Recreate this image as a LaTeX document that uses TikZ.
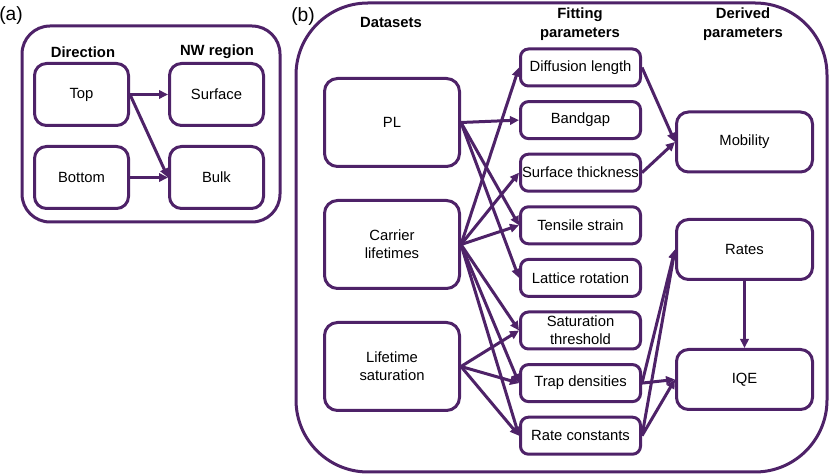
\documentclass[tikz,border=0pt]{standalone}
\usepackage{fontspec}
\setmainfont{Liberation Sans}
\usepackage{tikz}
\usetikzlibrary{positioning,arrows.meta}

\definecolor{plum}{RGB}{78,34,104}
\tikzset{
  box/.style={draw=plum, line width=1.5pt, rounded corners=5pt, inner sep=0pt,
    align=center, font=\fontsize{7.4}{9}\selectfont},
  abox/.style={box, minimum width=47pt, minimum height=31pt, rounded corners=6pt},
  dbox/.style={box, minimum width=67.5pt, minimum height=44pt, rounded corners=6.5pt},
  fbox/.style={box, minimum width=60pt, minimum height=18.5pt, rounded corners=4pt},
  pbox/.style={box, minimum width=68pt, minimum height=30pt, rounded corners=6pt},
  head/.style={align=center, inner sep=0pt, font=\fontsize{7.4}{9.5}\selectfont\bfseries},
  tag/.style={inner sep=0pt, font=\fontsize{9.6}{11}\selectfont},
  frame/.style={draw=plum, line width=1.5pt},
  arr/.style={draw=plum, line width=1.5pt, -{Triangle[length=4.5pt,width=4.2pt]}}
}

\begin{document}
\begin{tikzpicture}[x=0.5pt,y=-0.5pt]
  \useasboundingbox (0,0) rectangle (830,475);

  % Panel (a)
  \draw[frame, rounded corners=14pt] (22,26) rectangle (280,222);
  \node[tag] (taga) at (11,16) {(a)};
  \node[head] (hdir) at (83,52) {Direction};
  \node[head] (hreg) at (217,52) {NW region};
  \node[abox] (top) at (81.5,94.5) {Top};
  \node[abox, right=19pt of top] (surface) {Surface};
  \node[abox, below=9pt of top] (bottom) {Bottom};
  \node[abox, right=19pt of bottom] (bulk) {Bulk};

  \draw[arr] (top.east) -- (surface.west);
  \draw[arr] (top.east) -- (bulk.west);
  \draw[arr] (bottom.east) -- (bulk.west);

  % Panel (b)
  \draw[frame, rounded corners=36pt] (296,3) rectangle (827,472);
  \node[tag] (tagb) at (303,17) {(b)};
  \node[head] (hdata) at (391,22) {Datasets};
  \node[head] (hfit) at (580,24) {Fitting\\parameters};
  \node[head] (hder) at (743,24) {Derived\\parameters};

  % Datasets
  \node[dbox] (pl) at (392,122.5) {PL};
  \node[dbox, below=15.5pt of pl] (carrier) {Carrier\\lifetimes};
  \node[dbox, below=15.5pt of carrier] (lifesat) {Lifetime\\saturation};

  % Fitting parameters
  \node[fbox] (diffusion) at (580.5,67.5) {Diffusion length};
  \node[fbox, below=6.3pt of diffusion] (bandgap) {Bandgap};
  \node[fbox, below=6.3pt of bandgap] (thickness) {Surface thickness};
  \node[fbox, below=6.3pt of thickness] (strain) {Tensile strain};
  \node[fbox, below=6.3pt of strain] (rotation) {Lattice rotation};
  \node[fbox, below=6.3pt of rotation] (threshold) {Saturation\\threshold};
  \node[fbox, below=6.3pt of threshold] (traps) {Trap densities};
  \node[fbox, below=6.3pt of traps] (constants) {Rate constants};

  % Derived parameters
  \node[pbox] (mobility) at (744.5,142) {Mobility};
  \node[pbox] (rates) at (744.5,249.5) {Rates};
  \node[pbox, below=33.5pt of rates] (iqe) {IQE};

  % Datasets to fitting parameters
  \foreach \t in {bandgap,strain,rotation}
    \draw[arr] (pl.east) -- (\t.west);
  \foreach \t in {diffusion,thickness,strain,threshold,traps,constants}
    \draw[arr] (carrier.east) -- (\t.west);
  \foreach \t in {threshold,traps,constants}
    \draw[arr] (lifesat.east) -- (\t.west);

  % Fitting to derived parameters
  \draw[arr] (diffusion.east) -- (mobility.west);
  \draw[arr] (thickness.east) -- (mobility.west);
  \foreach \s in {traps,constants} {
    \draw[arr] (\s.east) -- (rates.west);
    \draw[arr] (\s.east) -- (iqe.west);
  }
  \draw[arr] (rates.south) -- (iqe.north);

\end{tikzpicture}
\end{document}
